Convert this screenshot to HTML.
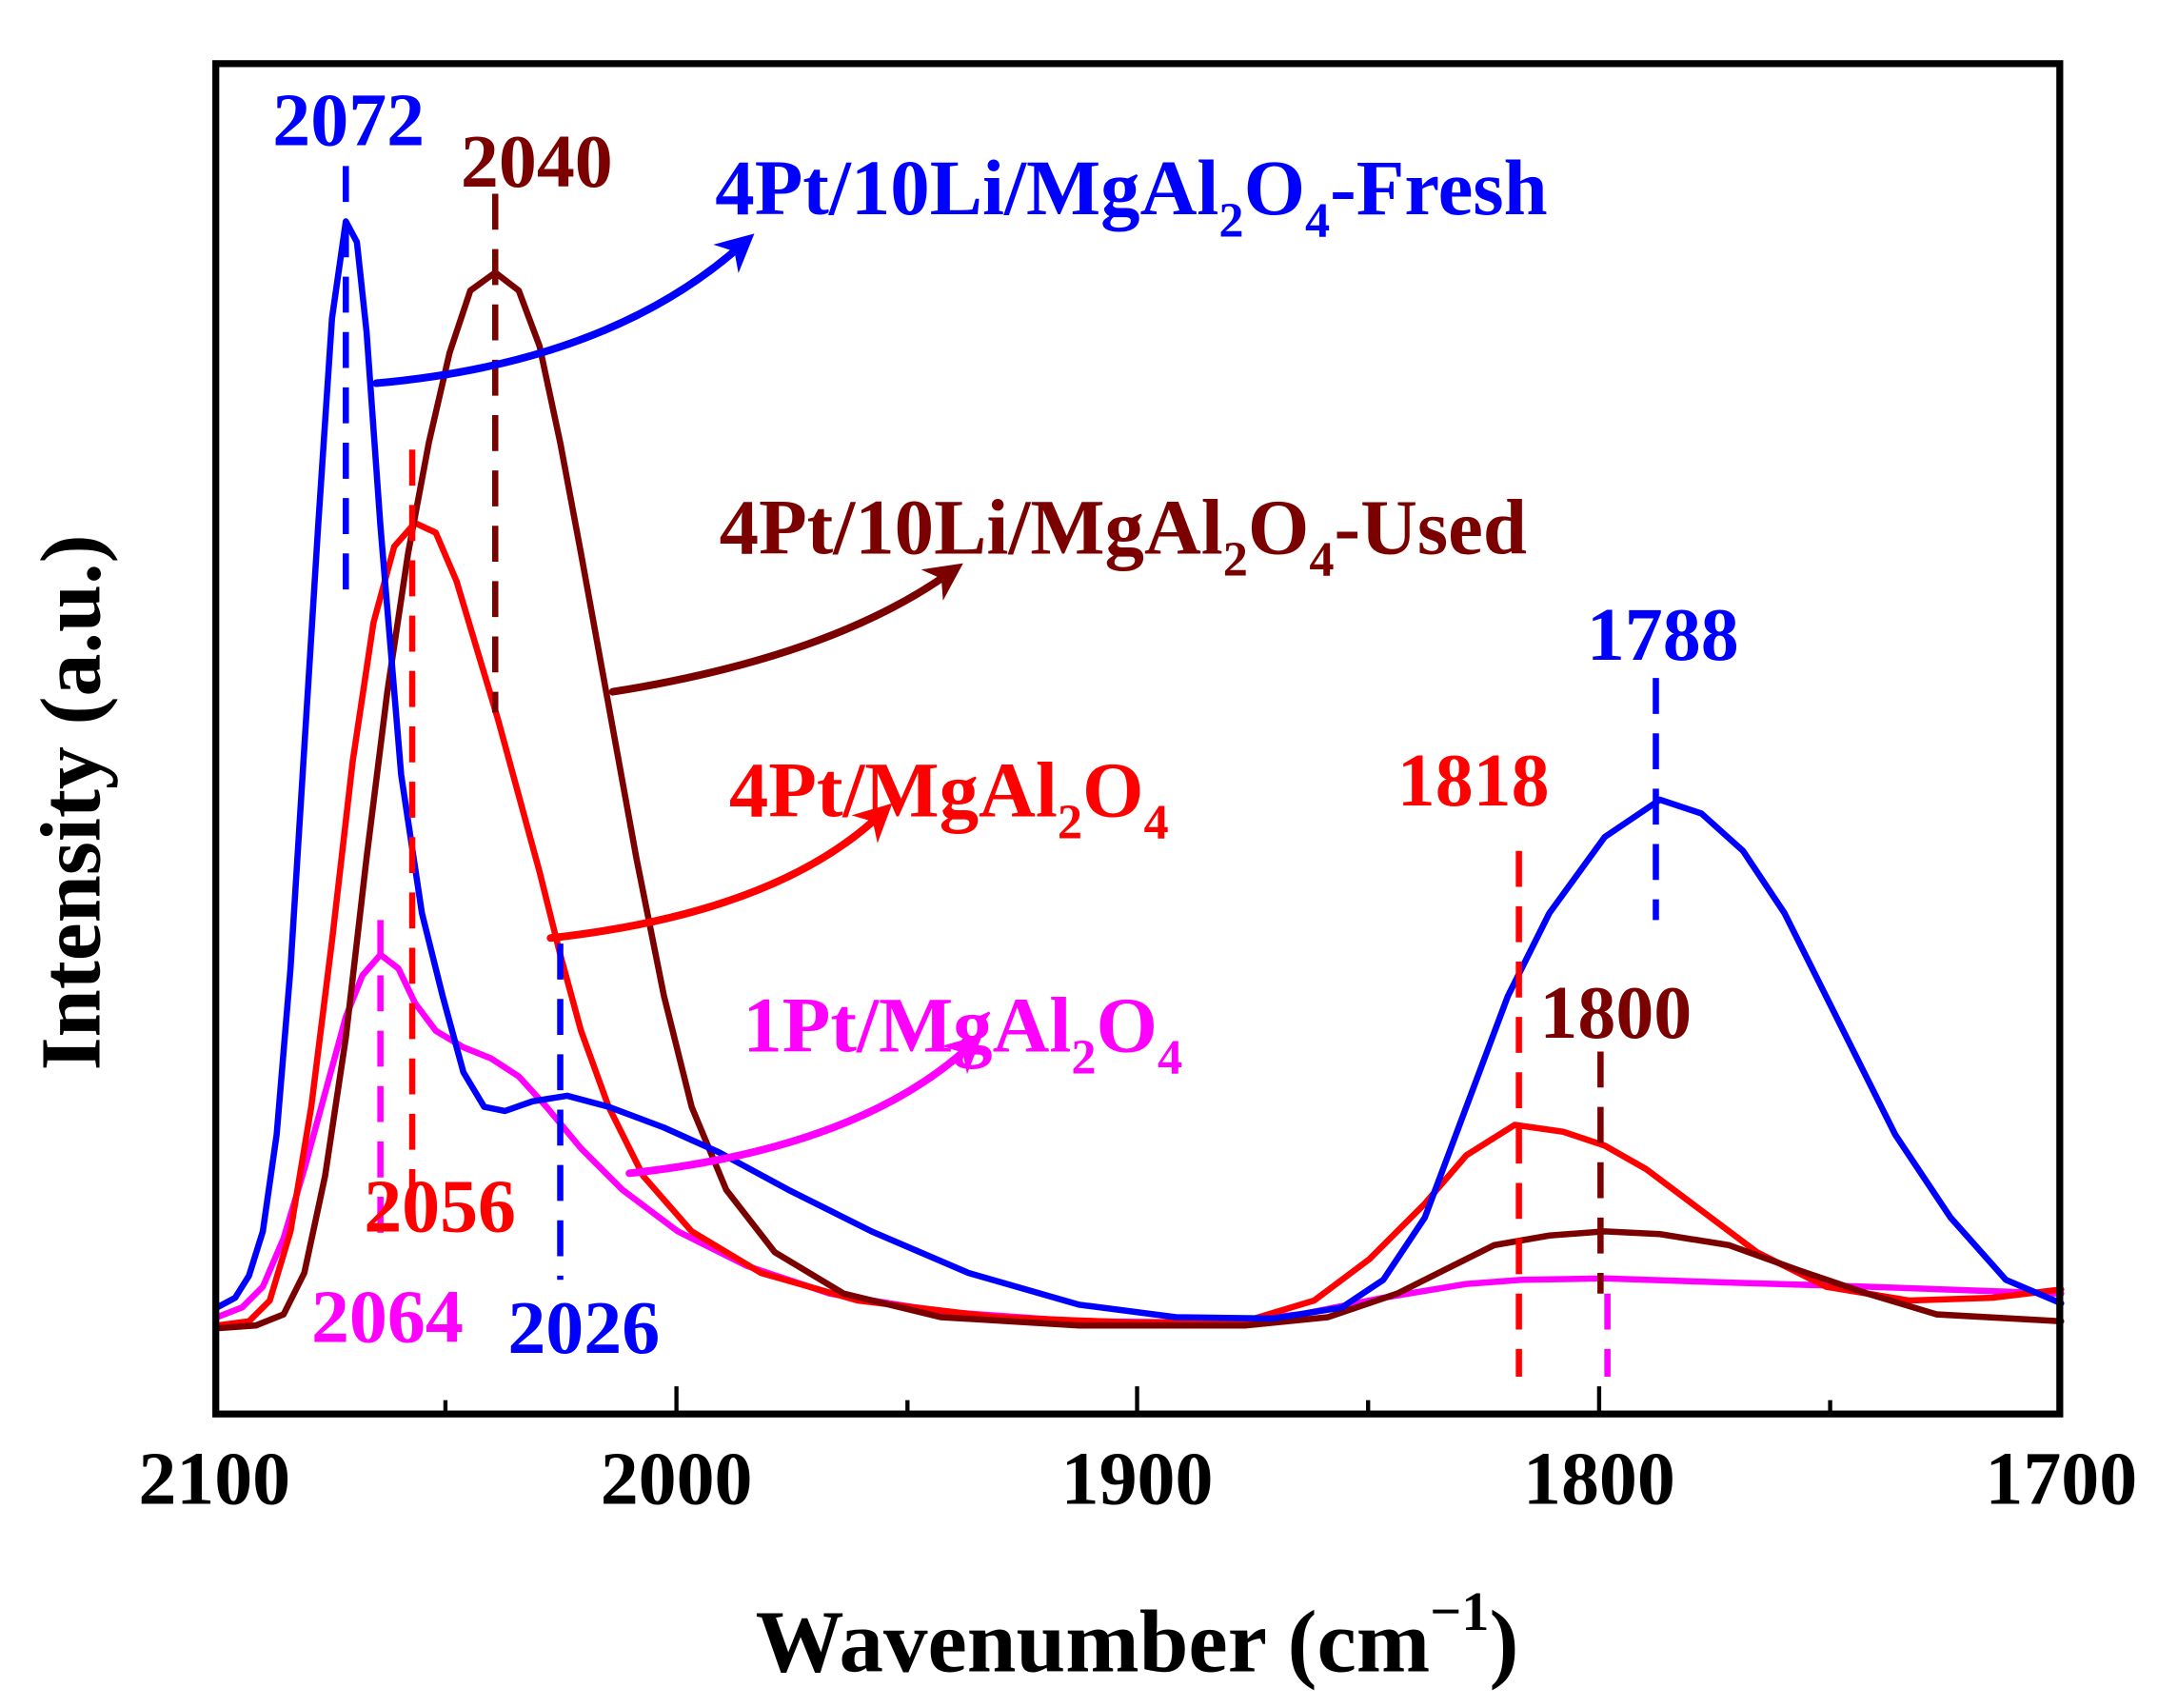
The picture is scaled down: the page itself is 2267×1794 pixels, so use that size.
<!DOCTYPE html>
<html><head><meta charset="utf-8"><style>
html,body{margin:0;padding:0;background:#fff;}
svg{display:block}
text{font-family:"Liberation Serif",serif;font-weight:bold}
</style></head><body>
<svg width="2267" height="1794" viewBox="0 0 1560 1234.5" preserveAspectRatio="none" xmlns="http://www.w3.org/2000/svg">
<defs>
<marker id="ab" viewBox="0 0 10 10" refX="5" refY="5" markerWidth="5" markerHeight="5" orient="auto"><path d="M0,0 L10,5 L0,10 L3,5 z" fill="#0000ff"/></marker>
<marker id="ad" viewBox="0 0 10 10" refX="5" refY="5" markerWidth="5" markerHeight="5" orient="auto"><path d="M0,0 L10,5 L0,10 L3,5 z" fill="#7b0000"/></marker>
<marker id="ar" viewBox="0 0 10 10" refX="5" refY="5" markerWidth="5" markerHeight="5" orient="auto"><path d="M0,0 L10,5 L0,10 L3,5 z" fill="#ff0000"/></marker>
<marker id="am" viewBox="0 0 10 10" refX="5" refY="5" markerWidth="5" markerHeight="5" orient="auto"><path d="M0,0 L10,5 L0,10 L3,5 z" fill="#ff00ff"/></marker>
</defs>
<g fill="none" stroke-width="4.5" stroke-linejoin="round" stroke-linecap="round">
<polyline stroke="#ff00ff" points="157,952 175,945 190,930 205,895 220,845 235,790 250,735 262,705 275,690 288,700 300,725 315,745 335,757 355,765 375,778 395,800 420,830 450,860 490,890 540,915 600,935 680,948 780,955 880,956 940,950 1000,938 1060,928 1100,925 1160,924 1250,927 1350,930 1490,935"/>
<polyline stroke="#ff0000" points="157,958 180,955 195,940 210,890 225,800 240,680 255,550 270,450 285,395 300,378 315,385 330,420 345,470 360,520 375,575 390,630 405,690 420,745 440,800 465,850 500,890 550,920 620,940 720,952 820,956 900,955 950,940 990,910 1030,870 1060,835 1095,813 1130,818 1160,828 1190,845 1230,875 1270,905 1320,930 1380,940 1440,938 1490,932"/>
<polyline stroke="#7b0000" points="157,960 185,958 205,950 220,920 235,850 250,750 265,620 280,500 295,400 310,320 325,255 340,210 358,197 375,210 390,250 405,320 420,400 440,510 460,620 480,720 500,800 525,860 560,905 610,935 680,952 780,958 900,958 960,952 1010,935 1050,915 1080,900 1120,893 1160,890 1200,892 1250,900 1300,918 1350,935 1400,950 1490,955"/>
<polyline stroke="#0000ff" points="157,945 170,938 180,922 190,890 200,820 210,700 220,540 230,380 240,230 250,160 258,175 265,240 275,380 290,560 305,660 320,720 335,775 350,800 365,803 385,796 410,792 440,800 480,815 520,833 570,860 630,890 700,920 780,943 850,952 920,953 970,945 1000,925 1030,880 1060,800 1090,720 1120,660 1160,605 1200,578 1230,588 1260,615 1290,660 1330,740 1370,820 1410,880 1450,925 1490,942"/>
</g>
<g stroke-width="4.5" stroke-dasharray="26,14" fill="none">
<line x1="250" y1="120" x2="250" y2="430" stroke="#0000ff"/>
<line x1="358" y1="140" x2="358" y2="515" stroke="#7b0000"/>
<line x1="298" y1="325" x2="298" y2="870" stroke="#ff0000"/>
<line x1="275" y1="665" x2="275" y2="905" stroke="#ff00ff"/>
<line x1="405" y1="682" x2="405" y2="925" stroke="#0000ff"/>
<line x1="1098" y1="615" x2="1098" y2="995" stroke="#ff0000"/>
<line x1="1157" y1="760" x2="1157" y2="935" stroke="#7b0000"/>
<line x1="1162" y1="935" x2="1162" y2="995" stroke="#ff00ff"/>
<line x1="1197" y1="490" x2="1197" y2="665" stroke="#0000ff"/>
</g>
<g fill="none" stroke-width="5.5" stroke-linecap="round">
<path d="M272,277 Q440,262 535,178" stroke="#0000ff" marker-end="url(#ab)"/>
<path d="M443,500 Q600,475 685,415" stroke="#7b0000" marker-end="url(#ad)"/>
<path d="M398,678 Q560,660 635,590" stroke="#ff0000" marker-end="url(#ar)"/>
<path d="M455,848 Q620,830 700,757" stroke="#ff00ff" marker-end="url(#am)"/>
</g>
<rect x="156" y="46" width="1333" height="976" fill="none" stroke="#000" stroke-width="5"/>
<g stroke="#000" stroke-width="3">
<line x1="322" y1="1022" x2="322" y2="1012"/>
<line x1="489" y1="1022" x2="489" y2="1002"/>
<line x1="656" y1="1022" x2="656" y2="1012"/>
<line x1="822" y1="1022" x2="822" y2="1002"/>
<line x1="989" y1="1022" x2="989" y2="1012"/>
<line x1="1156" y1="1022" x2="1156" y2="1002"/>
<line x1="1323" y1="1022" x2="1323" y2="1012"/>
</g>
<g font-size="55" text-anchor="middle" fill="#000">
<text x="155" y="1087">2100</text>
<text x="489" y="1087">2000</text>
<text x="822" y="1087">1900</text>
<text x="1156" y="1087">1800</text>
<text x="1490" y="1087">1700</text>
</g>
<text x="822" y="1208" font-size="64" text-anchor="middle">Wavenumber (cm<tspan font-size="40" dy="-30">−1</tspan><tspan dy="30">)</tspan></text>
<text transform="translate(72,580) rotate(-90)" font-size="62" text-anchor="middle">Intensity (a.u.)</text>
<g font-size="55" text-anchor="middle">
<text x="252" y="105" fill="#0000ff">2072</text>
<text x="388" y="135" fill="#7b0000">2040</text>
<text x="1202" y="477" fill="#0000ff">1788</text>
<text x="1065" y="582" fill="#ff0000">1818</text>
<text x="1168" y="750" fill="#7b0000">1800</text>
<text x="318" y="890" fill="#ff0000">2056</text>
<text x="280" y="970" fill="#ff00ff">2064</text>
<text x="422" y="978" fill="#0000ff">2026</text>
</g>
<g font-size="57">
<text x="517" y="155" fill="#0000ff">4Pt/10Li/MgAl<tspan font-size="36" dy="16">2</tspan><tspan dy="-16">O</tspan><tspan font-size="36" dy="16">4</tspan><tspan dy="-16">-Fresh</tspan></text>
<text x="520" y="400" fill="#7b0000">4Pt/10Li/MgAl<tspan font-size="36" dy="16">2</tspan><tspan dy="-16">O</tspan><tspan font-size="36" dy="16">4</tspan><tspan dy="-16">-Used</tspan></text>
<text x="527" y="590" fill="#ff0000">4Pt/MgAl<tspan font-size="36" dy="16">2</tspan><tspan dy="-16">O</tspan><tspan font-size="36" dy="16">4</tspan></text>
<text x="537" y="760" fill="#ff00ff">1Pt/MgAl<tspan font-size="36" dy="16">2</tspan><tspan dy="-16">O</tspan><tspan font-size="36" dy="16">4</tspan></text>
</g>
</svg>
</body></html>
